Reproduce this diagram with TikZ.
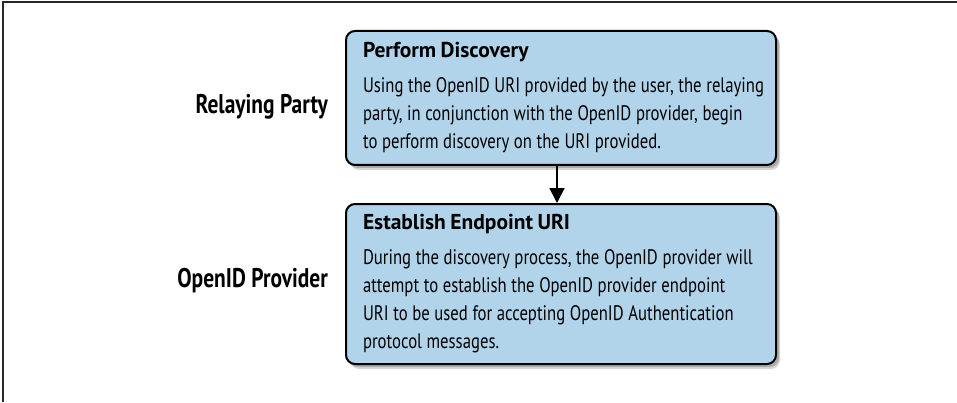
\documentclass[tikz,border=0pt]{standalone}
\usepackage{fontspec}
\usepackage{graphicx}
\setmainfont{PT Sans}
\newfontfamily\labelfam[FakeStretch=0.795]{PT Sans}
\usetikzlibrary{shadows,arrows.meta}
\definecolor{boxfill}{RGB}{178,212,234}
\definecolor{framegray}{RGB}{40,40,40}
\newsavebox\measurebox
\newcommand\bodyfont{\fontsize{21}{28}\selectfont\spaceskip=5.8pt\relax}
\newcommand\titlefont{\bfseries\fontsize{21.5}{28}\selectfont\spaceskip=4.5pt\relax}
\newcommand\bline[1]{\scalebox{\bodyfac}[1]{\bodyfont #1}}
\newcommand\tline[1]{\mbox{\titlefont #1}}
\tikzset{
  stepbox/.style={draw=black, line width=2pt, rounded corners=9pt, fill=boxfill,
    drop shadow={shadow xshift=4pt, shadow yshift=-5pt, fill=black, opacity=0.16},
    drop shadow={shadow xshift=3pt, shadow yshift=-3pt, fill=black, opacity=0.2},
    minimum width=430pt, text width=396pt, inner xsep=17pt, align=left,
    font=\bodyfont, anchor=north west},
  rolelabel/.style={font=\labelfam\bfseries\fontsize{27}{30}\selectfont, anchor=east, inner sep=0pt},
  flow/.style={line width=1.8pt, -{Triangle[length=15pt,width=15pt]}},
  frameline/.style={draw=framegray, line width=1.5pt}
}
\begin{document}
\sbox\measurebox{\bodyfont Using the OpenID URI provided by the user, the relaying}%
\pgfmathsetmacro\bodyfac{401/\the\wd\measurebox}%
\begin{tikzpicture}[x=1pt,y=1pt]
\useasboundingbox (0,0) rectangle (957,402);
\draw[frameline] (3,0) -- (3,400) -- (957,400);
\node[stepbox, minimum height=134pt] (pd) at (345,372) {\tline{Perform Discovery}\\[7pt]
\bline{Using the OpenID URI provided by the user, the relaying}\\
\bline{party, in conjunction with the OpenID provider, begin}\\
\bline{to perform discovery on the URI provided.}};
\node[stepbox, minimum height=160pt] (ee) at (345,199) {\tline{Establish Endpoint URI}\\[7pt]
\bline{During the discovery process, the OpenID provider will}\\
\bline{attempt to establish the OpenID provider endpoint}\\
\bline{URI to be used for accepting OpenID Authentication}\\
\bline{protocol messages.}};
\node[rolelabel] (rp) at (328,295) {Relaying Party};
\node[rolelabel] (op) at (328,121) {OpenID Provider};
\draw[flow] ([xshift=-4pt]pd.south) -- ([xshift=-4pt]ee.north);
\end{tikzpicture}
\end{document}
